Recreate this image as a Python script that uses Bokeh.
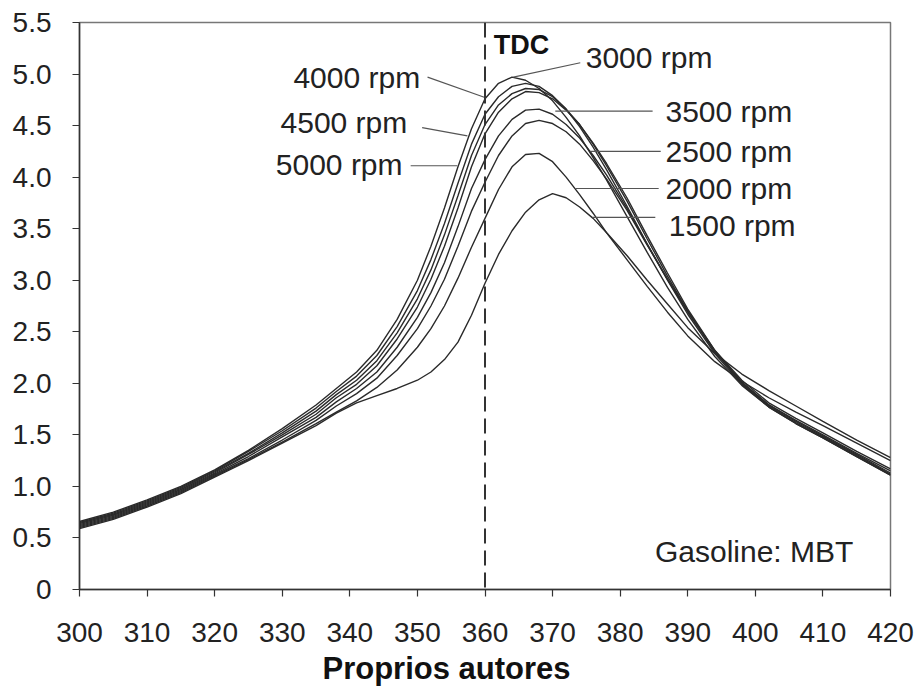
from bokeh.plotting import figure
from bokeh.models import Range1d, FixedTicker, Span, Label, Title
from bokeh.embed import file_html
from bokeh.resources import INLINE

# ---- data (crank angle in degrees, cylinder pressure) ----
angle = [300, 305, 310, 315, 320, 325, 330, 335, 338, 341, 344, 347, 350, 352, 354, 356, 358, 360, 362,
         364, 366, 368, 370, 372, 374, 376, 378, 381, 384, 387, 390, 394, 398, 402, 406, 410, 415, 420]

p3000 = [0.66, 0.75, 0.87, 1.00, 1.16, 1.35, 1.56, 1.79, 1.95, 2.11, 2.32, 2.62, 3.00, 3.33, 3.70, 4.10, 4.47, 4.76, 4.91,
         4.97, 4.94, 4.86, 4.74, 4.58, 4.40, 4.19, 3.97, 3.62, 3.27, 2.93, 2.62, 2.26, 1.98, 1.77, 1.61, 1.47, 1.29, 1.11]
p4000 = [0.65, 0.74, 0.86, 0.99, 1.15, 1.34, 1.54, 1.76, 1.92, 2.07, 2.27, 2.55, 2.90, 3.20, 3.55, 3.94, 4.32, 4.61, 4.78,
         4.88, 4.91, 4.88, 4.79, 4.66, 4.49, 4.29, 4.07, 3.72, 3.35, 3.00, 2.67, 2.29, 1.99, 1.77, 1.61, 1.47, 1.29, 1.11]
p3500 = [0.64, 0.73, 0.85, 0.98, 1.14, 1.32, 1.52, 1.73, 1.89, 2.03, 2.22, 2.49, 2.82, 3.10, 3.44, 3.82, 4.21, 4.51, 4.70,
         4.81, 4.86, 4.85, 4.78, 4.66, 4.51, 4.32, 4.11, 3.77, 3.40, 3.04, 2.70, 2.31, 2.00, 1.78, 1.62, 1.48, 1.30, 1.12]
p4500 = [0.63, 0.72, 0.84, 0.97, 1.13, 1.31, 1.50, 1.70, 1.86, 1.99, 2.17, 2.43, 2.74, 3.01, 3.33, 3.70, 4.10, 4.42, 4.63,
         4.76, 4.83, 4.82, 4.76, 4.65, 4.51, 4.33, 4.13, 3.80, 3.43, 3.07, 2.72, 2.32, 2.01, 1.79, 1.63, 1.49, 1.31, 1.13]
p5000 = [0.62, 0.71, 0.83, 0.96, 1.12, 1.29, 1.48, 1.67, 1.82, 1.95, 2.11, 2.35, 2.64, 2.88, 3.17, 3.52, 3.89, 4.17, 4.40,
         4.56, 4.65, 4.66, 4.61, 4.51, 4.38, 4.21, 4.02, 3.70, 3.35, 3.01, 2.69, 2.31, 2.01, 1.79, 1.64, 1.50, 1.32, 1.15]
p2500 = [0.61, 0.70, 0.82, 0.95, 1.11, 1.27, 1.45, 1.64, 1.78, 1.90, 2.05, 2.27, 2.53, 2.75, 3.01, 3.33, 3.67, 3.95, 4.21,
         4.40, 4.52, 4.55, 4.52, 4.44, 4.32, 4.16, 3.98, 3.68, 3.34, 3.01, 2.70, 2.32, 2.03, 1.81, 1.66, 1.52, 1.34, 1.17]
p2000 = [0.60, 0.69, 0.81, 0.94, 1.10, 1.26, 1.43, 1.61, 1.72, 1.83, 1.96, 2.13, 2.35, 2.53, 2.75, 3.02, 3.32, 3.60, 3.88,
         4.10, 4.22, 4.23, 4.15, 4.00, 3.83, 3.65, 3.46, 3.20, 2.94, 2.69, 2.46, 2.21, 2.02, 1.86, 1.72, 1.59, 1.42, 1.25]
p1500 = [0.59, 0.68, 0.80, 0.93, 1.09, 1.25, 1.42, 1.59, 1.71, 1.81, 1.88, 1.95, 2.03, 2.11, 2.23, 2.40, 2.66, 2.97, 3.25,
         3.48, 3.66, 3.78, 3.84, 3.80, 3.71, 3.60, 3.46, 3.24, 3.00, 2.77, 2.54, 2.29, 2.09, 1.93, 1.78, 1.63, 1.45, 1.28]

series = [p3000, p4000, p3500, p4500, p5000, p2500, p2000, p1500]

x_ticks = [300, 310, 320, 330, 340, 350, 360, 370, 380, 390, 400, 410, 420]
y_ticks = [0, 0.5, 1.0, 1.5, 2.0, 2.5, 3.0, 3.5, 4.0, 4.5, 5.0, 5.5]
y_tick_labels = ["0", "0.5", "1.0", "1.5", "2.0", "2.5", "3.0", "3.5", "4.0", "4.5", "5.0", "5.5"]

tdc_angle = 360

# annotation labels and their leader lines
left_labels = ["4000 rpm", "4500 rpm", "5000 rpm"]
left_lx = [350.4, 348.5, 347.8]
left_ly = [4.97, 4.53, 4.12]
left_seg = [(351.5, 4.97, 360.1, 4.77), (350.7, 4.48, 357.4, 4.40), (349.0, 4.11, 355.9, 4.11)]

right_labels = ["3000 rpm", "3500 rpm", "2500 rpm", "2000 rpm", "1500 rpm"]
right_lx = [374.9, 386.7, 386.7, 386.7, 387.2]
right_ly = [5.16, 4.64, 4.25, 3.89, 3.53]
right_seg = [(374.1, 5.11, 364.2, 4.97), (370.4, 4.64, 384.8, 4.64), (375.6, 4.25, 386.0, 4.25),
             (373.4, 3.89, 385.7, 3.89), (375.9, 3.61, 385.2, 3.61)]

caption = "Proprios autores"

FONT = "Liberation Sans"
TXT = "#222222"

p = figure(width=919, height=691, x_range=Range1d(300, 420), y_range=Range1d(0, 5.5),
           output_backend="svg", toolbar_location=None,
           min_border_left=79, min_border_top=22, min_border_right=29, min_border_bottom=102)
p.grid.visible = False
p.outline_line_color = "#777777"
p.outline_line_width = 1.5
p.background_fill_color = "white"
p.border_fill_color = "white"

for ax in (p.xaxis[0], p.yaxis[0]):
    ax.axis_line_color = "#333333"
    ax.axis_line_width = 1.5
    ax.major_tick_line_color = "#333333"
    ax.major_tick_line_width = 1.2
    ax.major_tick_in = 0
    ax.major_tick_out = 7
    ax.minor_tick_line_color = None
    ax.major_label_text_font = FONT
    ax.major_label_text_font_size = "28px"
    ax.major_label_text_color = TXT

p.xaxis.major_label_standoff = 26
p.yaxis.major_label_standoff = 21
p.xaxis.ticker = FixedTicker(ticks=x_ticks)
p.yaxis.ticker = FixedTicker(ticks=y_ticks)
p.yaxis.major_label_overrides = {t: s for t, s in zip(y_ticks, y_tick_labels)}

p.add_layout(Span(location=tdc_angle, dimension="height", line_color="#333333",
                  line_width=2, line_dash="15 7"))

for s in series:
    p.line(angle, s, line_color="#2a2a2a", line_width=1.4)

for (x0, y0, x1, y1) in left_seg + right_seg:
    p.segment(x0=[x0], y0=[y0], x1=[x1], y1=[y1], line_color="#555555", line_width=1.1)

for t, x, y in zip(left_labels, left_lx, left_ly):
    p.add_layout(Label(x=x, y=y, text=t, text_align="right", text_baseline="middle",
                       text_font=FONT, text_font_size="30px", text_color=TXT))
for t, x, y in zip(right_labels, right_lx, right_ly):
    p.add_layout(Label(x=x, y=y, text=t, text_align="left", text_baseline="middle",
                       text_font=FONT, text_font_size="30px", text_color=TXT))

p.add_layout(Label(x=361.3, y=5.28, text="TDC", text_align="left", text_baseline="middle",
                   text_font=FONT, text_font_size="27px", text_font_style="bold", text_color="#111111"))
p.add_layout(Label(x=414.5, y=0.37, text="Gasoline: MBT", text_align="right", text_baseline="middle",
                   text_font=FONT, text_font_size="30px", text_color=TXT))

# caption below the axis (centred on the image, as in the original)
p.add_layout(Title(text=caption, align="left", offset=243, standoff=8, vertical_align="bottom",
                   text_font=FONT, text_font_size="31px", text_font_style="bold",
                   text_color="#111111"), "below")

open("out.html", "w").write(file_html(p, INLINE))
